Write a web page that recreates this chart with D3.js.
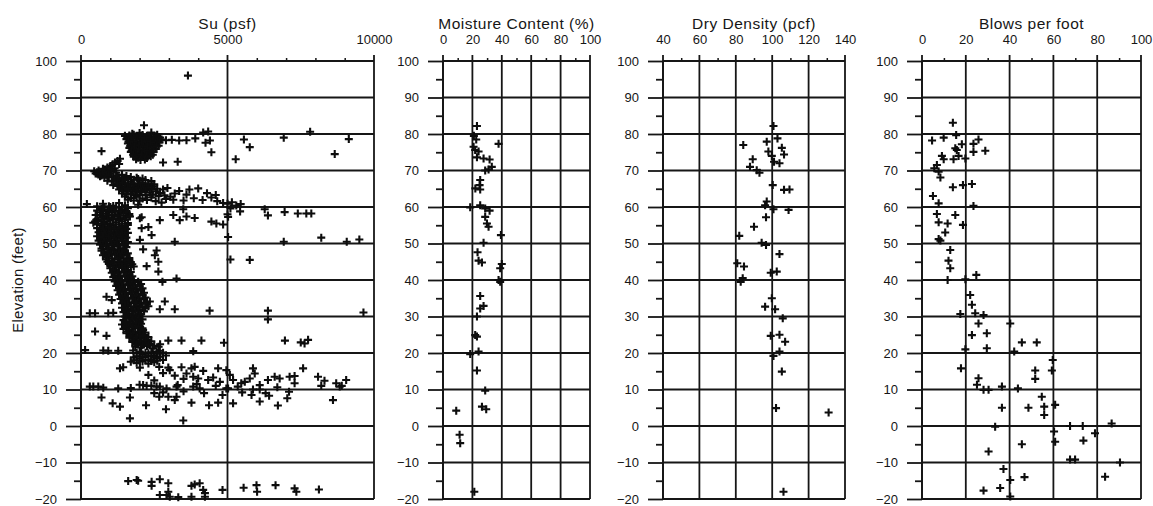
<!DOCTYPE html>
<html><head><meta charset="utf-8">
<script src="https://cdn.jsdelivr.net/npm/d3@7"></script>
<style>
html,body{margin:0;padding:0;background:#fff;}
svg{display:block;font-family:"Liberation Sans",Arial,Helvetica,sans-serif;}
</style></head>
<body>
<svg id="chart" width="1153" height="506"></svg>
<script>
// ---------- tick labels ----------
const elevMajor = [-20,-10,0,10,20,30,40,50,60,70,80,90,100];
const elevMinor = [-15,-5,5,15,25,35,45,55,65,75,85,95];
const suMajor = [0,5000,10000];
const suMinor = [1000,2000,3000,4000,6000,7000,8000,9000];
const mcMajor = [0,20,40,60,80,100];
const mcMinor = [10,30,50,70,90];
const ddMajor = [40,60,80,100,120,140];
const ddMinor = [50,70,90,110,130];
const bpfMajor = [0,20,40,60,80,100];
const bpfMinor = [10,30,50,70,90];
const titles = ["Su (psf)","Moisture Content (%)","Dry Density (pcf)","Blows per foot"];
const yTitle = "Elevation (feet)";

// ---------- data: [value, elevation] ----------
const suData = [
[3650,96],[2150,82.4],[2000,80.3],[1750,80.1],[2400,80.4],[2600,79.8],[4340,80.7],[4170,80.4],
[1500,79.5],[1650,79.6],[1800,79.8],[1950,79.4],[2100,79.7],[2250,79.5],[2400,79.2],[2550,79.4],[2700,79.0],
[1550,78.6],[1700,78.3],[1850,78.8],[2000,78.5],[2150,78.2],[2300,78.6],[2450,78.4],[2600,78.1],[2750,78.5],[2900,78.3],[3100,78.4],[3350,78.2],[3600,78.3],[3900,78.8],[4250,77.6],[4400,78.2],
[1600,77.4],[1750,77.1],[1900,77.5],[2050,77.2],[2200,76.9],[2350,77.3],[2500,77.0],[2650,76.8],
[1650,76.2],[1800,75.9],[1950,76.3],[2100,75.8],[2250,76.1],[2400,75.7],[2550,75.9],
[1700,75.1],[1850,74.7],[2000,75.0],[2150,74.5],[2300,74.9],[2450,74.3],
[1800,73.8],[1950,73.5],[2100,73.9],[2250,73.4],
[1580,79.0],[1720,79.1],[1880,78.9],[2030,79.0],[2180,78.9],[2330,79.0],[2480,78.8],[2630,78.7],
[1620,77.9],[1780,77.8],[1930,78.0],[2080,77.7],[2230,77.8],[2380,77.9],[2530,77.6],[2680,77.7],
[1680,76.7],[1830,76.6],[1980,76.8],[2130,76.5],[2280,76.6],[2430,76.4],[2580,76.5],
[1730,75.5],[1880,75.4],[2030,75.6],[2180,75.2],[2330,75.4],[2480,75.1],
[1780,74.3],[1930,74.1],[2080,74.3],[2230,74.0],[2380,73.9],
[1880,73.1],[2030,72.9],[2180,73.0],
[700,75.3],[4450,75.0],[2800,72.2],[3300,72.4],
[5560,78.5],[5760,76.4],[5280,73.1],[6920,79.0],[7820,80.6],[9140,78.6],[8660,74.5],
[1330,73.2],[1160,72.2],[1000,71.2],[820,70.3],[670,69.5],[590,68.9],[1250,72.6],[1080,71.7],[900,70.8],[750,69.9],[550,69.5],[700,68.6],[850,69.0],[1000,69.9],[1150,70.6],[1300,71.8],
[450,69.8],[600,70.0],[750,70.5],[900,69.6],[1050,70.2],[500,69.2],[800,69.3],[950,69.0],[1200,69.4],[1400,68.8],[1550,68.5],[1700,68.2],[1900,68.0],[2100,67.8],
[650,68.4],[800,68.0],[950,68.5],[1100,68.2],[1250,68.6],
[900,67.2],[1050,67.0],[1200,67.4],[1350,66.9],[1500,67.3],[1700,67.0],[2000,67.2],
[1150,67.8],[1300,67.6],[1450,67.9],[1600,67.7],[1800,67.5],[1950,67.7],[2200,67.4],[2400,67.1],
[1100,66.0],[1250,65.8],[1400,66.2],[1550,65.7],[1700,66.1],[1850,65.6],[2000,65.9],[2150,65.5],[2300,66.0],[2450,65.7],[2950,65.2],
[1250,66.5],[1420,66.6],[1600,66.4],[1780,66.5],[1950,66.3],[2100,66.6],[2300,66.4],[2500,66.2],
[1350,65.3],[1500,65.1],[1650,65.3],[1800,65.0],[1950,65.2],[2100,65.0],[2250,65.2],[2400,64.9],[2600,65.0],[2800,64.8],
[1300,64.8],[1450,64.4],[1600,64.9],[1750,64.2],[1900,64.6],[2050,64.1],[2200,64.5],[2350,63.9],[2550,64.3],[2700,63.8],[3350,64.4],[3700,64.8],[4000,65.1],[3200,63.7],[3600,63.4],[4300,63.8],[4600,63.3],
[1400,63.7],[1550,63.5],[1700,63.6],[1850,63.3],[2000,63.5],[2200,63.3],[2450,63.4],[2650,63.0],[2850,63.2],[3050,62.8],
[1500,62.9],[1700,62.5],[1900,62.8],[2100,62.3],[2400,62.6],[2900,62.2],[3150,62.0],[3500,61.8],[3850,62.4],[4150,61.9],[4450,62.6],[4650,61.6],[4850,61.1],[5000,60.9],[5150,61.3],[5300,60.4],[5450,60.8],[5100,59.6],[5000,58.0],
[1600,62.0],[1800,61.8],[2000,61.7],[2250,61.9],[2550,61.6],[2750,61.2],
[200,60.8],[750,60.9],[1300,61.1],[1100,60.3],[950,60.2],[1500,60.5],[1950,60.6],
[5430,58.8],[6270,59.4],[6380,57.7],[6950,58.6],[7400,58.2],[7690,58.2],[7860,58.2],
[700,59.5],[900,59.2],[1100,59.6],[1300,59.0],[1500,59.3],
[550,60.2],[800,59.9],[1000,60.0],[1200,59.8],[1400,59.9],[1600,59.7],
[650,58.5],[850,58.2],[1050,58.6],[1250,58.0],[1450,58.4],[1650,58.1],
[550,59.0],[750,58.8],[950,58.9],[1150,58.7],[1350,58.8],[1550,58.6],
[750,57.3],[950,57.0],[1150,57.4],[1350,56.9],[1550,57.2],
[500,57.8],[700,57.6],[900,57.7],[1050,57.9],[1250,57.5],[1450,57.7],[1650,57.5],
[600,56.2],[800,55.9],[1000,56.3],[1200,55.8],[1400,56.1],[1600,55.6],
[550,56.6],[700,56.5],[900,56.6],[1100,56.7],[1300,56.4],[1500,56.6],
[700,55.0],[900,54.7],[1100,55.1],[1300,54.5],[1500,54.9],
[550,55.4],[800,55.3],[1000,55.5],[1200,55.2],[1400,55.4],[1600,55.1],
[650,53.8],[850,53.5],[1050,53.9],[1250,53.3],[1450,53.7],
[550,54.2],[750,54.1],[950,54.3],[1150,54.0],[1350,54.2],[1550,54.0],
[700,52.6],[900,52.3],[1100,52.7],[1300,52.1],[1500,52.5],
[600,53.1],[800,52.9],[1000,53.1],[1200,52.8],[1400,53.0],[1600,52.9],
[650,51.4],[850,51.1],[1050,51.5],[1250,50.9],[1450,51.3],
[550,52.0],[750,51.8],[950,51.9],[1150,51.7],[1350,51.9],[1550,51.6],
[700,50.3],[900,50.0],[1100,50.4],[1300,49.8],[1500,50.1],
[600,50.8],[800,50.6],[1000,50.7],[1200,50.5],[1400,50.7],[1600,50.4],
[750,49.2],[950,48.9],[1150,49.3],[1350,48.7],[1550,49.0],
[650,49.7],[850,49.5],[1050,49.6],[1250,49.4],[1450,49.6],
[700,48.6],[900,48.4],[1050,48.5],[1250,48.3],[1450,48.4],
[480,56.0],[420,55.7],[1670,57.4],[2070,57.2],[2010,56.9],[2690,56.4],[2070,54.2],[3150,57.8],[3370,56.4],[3600,57.4],[3880,57.0],[3490,59.4],[2410,52.3],[2010,51.0],[4450,56.0],[4620,55.5],[4850,55.2],[5020,57.3],[5020,51.8],[3200,50.5],[2580,48.1],[2120,48.4],[2300,54.5],
[8200,51.6],[9070,50.5],[9500,51.1],[6920,50.5],
[700,48.0],[900,47.7],[1100,48.1],[1300,47.5],[1500,47.9],
[800,47.3],[1000,47.2],[1200,47.0],[1400,47.1],[1600,47.3],
[750,46.8],[950,46.5],[1150,46.9],[1350,46.3],[1550,46.7],
[850,46.1],[1050,45.9],[1250,46.1],[1450,45.9],[1650,46.0],
[850,45.6],[1050,45.3],[1250,45.7],[1450,45.1],[1650,45.5],
[900,45.0],[1100,44.8],[1300,45.0],[1500,44.7],[1700,44.9],
[950,44.4],[1150,44.1],[1350,44.5],[1550,43.9],[1750,44.3],
[1000,43.8],[1200,43.6],[1400,43.8],[1600,43.5],[1800,43.7],
[1000,43.2],[1200,42.9],[1400,43.3],[1600,42.7],
[1100,42.5],[1300,42.3],[1500,42.5],[1700,42.2],
[1050,42.0],[1250,41.7],[1450,42.1],[1650,41.5],
[1150,41.3],[1350,41.1],[1550,41.3],[1750,41.0],
[1100,40.8],[1300,40.5],[1500,40.9],[1700,40.3],
[1200,40.1],[1400,39.9],[1600,40.1],[1800,39.8],
[2240,43.8],[2640,45.0],[2640,42.3],[2520,46.8],[2780,39.5],[3260,40.4],[5100,45.6],[5760,45.5],
[1150,39.6],[1350,39.3],[1550,39.7],[1750,39.1],[1950,39.5],
[1250,39.0],[1450,38.8],[1650,39.0],[1850,38.7],[2050,38.9],
[1200,38.4],[1400,38.1],[1600,38.5],[1800,37.9],[2000,38.3],
[1300,37.8],[1500,37.6],[1700,37.8],[1900,37.5],[2100,37.7],
[1250,37.2],[1450,36.9],[1650,37.3],[1850,36.7],[2050,37.1],
[1350,36.6],[1550,36.4],[1750,36.6],[1950,36.3],[2150,36.5],
[1300,36.0],[1500,35.7],[1700,36.1],[1900,35.5],[2100,35.9],
[1400,35.3],[1600,35.1],[1800,35.3],[2000,35.0],[2200,35.2],
[1350,34.8],[1550,34.5],[1750,34.9],[1950,34.3],[2150,34.7],
[1450,34.1],[1650,33.9],[1850,34.1],[2050,33.8],[2250,34.0],
[1400,33.6],[1600,33.3],[1800,33.7],[2000,33.1],[2200,33.5],
[1500,32.9],[1700,32.7],[1900,32.9],[2100,32.6],[2300,32.8],
[1400,32.4],[1600,32.1],[1800,32.5],[2000,31.9],[2200,32.3],
[1550,31.7],[1750,31.5],[1950,31.7],[2150,31.4],
[1450,31.2],[1650,30.9],[1850,31.3],[2050,30.7],
[1600,30.5],[1800,30.3],[2000,30.4],
[1500,30.0],[1700,29.7],[1900,30.1],
[870,35.4],[1050,34.5],[2350,34.1],[2860,34.1],[2690,32.0],[3200,32.0],[4390,31.6],[6380,31.6],[6380,29.2],[9640,31.1],
[300,30.9],[480,30.9],[930,30.9],[1100,31.0],
[1450,29.0],[1650,28.7],[1850,29.1],[2000,28.5],
[1550,29.4],[1750,29.2],[1950,29.4],[2100,29.2],
[1400,27.8],[1600,27.5],[1800,27.9],[1950,27.3],
[1500,28.3],[1700,28.1],[1900,28.3],[2050,28.0],
[1450,26.6],[1650,26.3],[1850,26.7],[2050,26.1],
[1550,27.1],[1750,26.9],[1950,27.1],[2100,26.8],
[1550,25.4],[1750,25.1],[1950,25.5],[2150,24.9],
[1600,25.9],[1800,25.7],[2000,25.9],[2200,25.6],
[1650,24.2],[1850,23.9],[2050,24.3],[2250,23.7],
[1700,24.7],[1900,24.5],[2100,24.7],[2300,24.4],
[1750,23.0],[1950,22.7],[2150,23.1],[2350,22.5],
[1800,23.5],[2000,23.3],[2200,23.5],[2400,23.2],
[1850,21.8],[2050,21.5],[2250,21.9],[2450,21.3],[2650,21.7],
[1900,22.3],[2100,22.1],[2300,22.3],[2500,22.0],[2700,22.4],
[480,25.9],[870,24.7],[2120,26.3],[2980,23.4],[3430,23.4],[4110,23.4],[4880,22.8],[6960,23.4],[7630,22.6],[7750,23.6],[7500,22.9],
[140,20.8],[760,20.7],[1270,20.6],[1780,20.7],[2690,20.6],[3830,20.5],[930,20.6],[2580,20.4],
[1900,20.0],[2100,19.6],[2300,19.9],[2500,19.4],[2700,19.8],[2900,19.3],
[2000,20.3],[2200,20.1],[2400,20.2],[2600,20.0],[2800,20.1],
[1800,18.8],[2000,18.5],[2200,18.9],[2400,18.3],[2600,18.6],[2800,18.1],
[1900,19.1],[2100,19.0],[2300,19.2],[2500,18.9],[2700,19.0],
[1700,17.6],[1900,17.3],[2100,17.7],[2300,17.1],[2500,17.5],
[1800,18.0],[2000,17.9],[2200,18.1],[2400,17.8],[2600,17.9],
[1330,15.8],[1440,16.1],[2010,16.0],[2300,14.0],[2670,16.2],[2980,16.0],[3030,15.3],[3430,16.1],[3600,14.4],[3770,15.8],[3880,16.2],[3830,13.5],[4170,15.1],[4340,12.6],[4510,13.3],[4680,15.8],[4740,12.1],[4960,15.3],[5080,14.0],[5190,12.6],[5020,10.3],[5470,11.7],[5590,12.1],[5760,13.0],[5870,15.8],[5930,14.4],[6380,12.6],[6610,13.5],[6780,13.0],[7120,13.5],[7290,13.7],[7290,11.7],[7580,15.8],[8090,13.5],[8310,12.4],[8710,11.7],[8830,10.8],[9050,12.6],
[3200,13.8],[3500,12.9],[4000,13.0],[2800,14.5],[2500,12.5],[3300,11.2],[3950,11.5],[4600,11.0],[5350,10.8],[6100,11.2],[6700,10.6],[8200,11.0],[8900,11.0],
[300,10.8],[420,10.8],[590,10.8],[760,10.5],[1270,10.3],[2120,11.2],[2240,11.0],[2400,11.0],[2580,10.8],[2690,10.8],[2920,10.3],[3260,10.8],[3830,10.8],[4050,10.3],[4960,10.3],[5870,10.0],[6100,10.0],[2000,11.3],[1700,10.4],
[700,7.8],[1080,6.2],[1330,5.3],[1670,7.8],[1670,2.1],[2220,5.7],[2670,8.0],[2900,4.6],[2980,8.0],[3200,7.1],[3260,8.0],[3490,1.5],[3770,6.4],[4370,5.7],[4680,6.4],[4830,8.5],[5190,6.2],[5820,8.5],[6100,6.7],[6420,8.3],[6720,5.6],[7040,7.6],[7100,9.4],[8600,7.1],[2500,9.0],[2800,9.2],[3500,9.5],[4200,9.0],[5500,9.2],[6300,9.0],
[1610,-15.1],[1900,-14.8],[1950,-15.0],[2410,-15.3],[2410,-16.4],[2690,-14.6],[2980,-15.7],[2980,-18.0],[2690,-18.9],[2920,-18.9],[3030,-19.4],[3320,-19.5],[3770,-19.4],[3770,-16.4],[3880,-16.0],[4050,-15.7],[4170,-17.5],[4230,-18.4],[4230,-19.4],[4830,-17.5],[5550,-16.9],[5990,-16.2],[6010,-18.0],[6640,-16.2],[7290,-17.1],[7350,-18.0],[8120,-17.4]
];

const mcData = [
[23.1,82.2],[21.0,79.5],[22.6,78.5],[37.8,77.3],[20.8,76.5],[21.9,75.6],[24.2,75.2],[23.1,73.6],[27.6,73.3],[31.7,73.0],
[33.2,71.0],[31.0,70.3],[28.7,70.0],[25.3,67.4],[24.9,66.0],[22.0,65.1],[25.3,64.8],[18.5,59.9],[25.3,60.5],[28.7,59.6],
[31.7,59.0],[28.7,57.3],[29.9,55.5],[31.0,54.6],[39.4,52.3],[27.6,50.2],[23.5,47.6],[24.2,45.3],[26.5,44.8],[40.0,44.4],
[38.9,43.2],[37.8,40.0],[38.9,39.5],[25.3,35.6],[27.6,32.9],[25.3,32.2],[23.1,30.0],[21.9,24.9],[23.1,24.5],[18.5,19.7],
[24.2,20.4],[23.1,15.2],[28.7,9.7],[26.5,5.3],[29.4,4.6],[9.0,4.2],[11.3,-2.4],[11.7,-4.7],[21.3,-18.0]
];

const ddData = [
[100.7,82.2],[102.9,78.8],[84.1,77.0],[97.0,77.9],[105.3,76.2],[106.5,74.4],[97.9,75.2],[99.8,74.0],
[89.3,73.1],[87.8,71.0],[91.5,70.1],[93.0,69.4],[101.0,72.4],[104.0,72.0],[100.3,66.0],[106.5,64.7],[109.5,64.8],
[97.0,61.5],[96.1,60.5],[109.0,59.2],[100.7,59.4],[96.6,57.2],[90.0,54.6],[81.9,52.1],[94.2,50.2],[96.6,49.6],
[104.0,47.1],[80.8,44.6],[84.5,43.7],[83.8,40.5],[82.7,39.5],[102.5,42.3],[99.2,42.0],[99.8,35.0],[96.1,32.7],
[101.6,32.0],[105.8,29.5],[99.2,24.7],[104.0,25.0],[107.1,23.1],[104.0,20.4],[100.7,19.2],[105.3,14.9],
[102.1,4.9],[131.0,3.7],[106.2,-18.0]
];

const bpfData = [
[14.1,83.1],[4.6,78.2],[9.9,79.0],[15.6,79.7],[15.2,76.1],[18.2,77.2],[15.9,75.6],[23.5,77.3],[23.5,75.1],[25.8,78.5],[28.9,75.4],
[9.1,74.0],[9.9,73.1],[14.4,73.1],[16.7,74.0],[19.8,73.3],[5.6,70.6],[6.8,71.5],[7.6,69.7],[8.4,68.1],
[14.1,65.4],[18.7,66.0],[22.8,66.3],[23.5,60.3],[5.0,63.0],[7.6,61.0],[7.6,55.8],[11.7,55.5],[15.2,57.8],[18.7,55.1],
[6.8,58.1],[10.6,53.0],[7.6,51.2],[8.4,50.8],[12.9,48.2],[12.1,45.3],[12.9,43.2],[11.7,40.0],[19.8,40.2],[24.8,41.4],
[22.0,35.9],[22.8,33.2],[17.5,30.7],[24.3,30.9],[28.1,30.4],[25.8,28.1],[22.8,24.9],[29.6,25.4],[29.6,21.3],[19.8,21.0],
[17.8,15.8],[25.8,13.1],[25.1,11.3],[28.1,9.9],[30.4,9.9],[36.5,10.8],[36.5,5.0],[40.3,28.1],[42.1,20.4],[45.6,22.9],
[52.4,22.9],[43.8,10.3],[48.6,5.0],[51.7,15.2],[51.7,12.9],[54.7,8.0],[55.8,5.3],[55.8,3.0],[59.7,18.1],[59.3,15.2],
[60.8,5.8],[60.3,-1.5],[60.8,-4.3],[33.4,-0.2],[30.4,-7.0],[45.6,-5.0],[37.2,-11.8],[35.7,-17.0],[28.1,-17.7],[40.3,-14.8],
[40.3,-19.3],[46.8,-14.0],[67.6,0.0],[73.4,0.0],[73.7,-4.0],[79.0,-2.0],[67.6,-9.2],[69.9,-9.2],[83.6,-13.9],[86.6,0.7],[90.4,-10.0]
];

// ---------- drawing ----------
const svg = d3.select("#chart");
const ink = "#161616";
const font = '"Liberation Sans",Arial,sans-serif';
const y = d3.scaleLinear().domain([-20,100]).range([499,61]);

const panels = [
  {title:titles[0], data:suData, domain:[0,10000], range:[81,374], major:suMajor, minor:suMinor},
  {title:titles[1], data:mcData, domain:[0,100], range:[443,590], major:mcMajor, minor:mcMinor},
  {title:titles[2], data:ddData, domain:[40,140], range:[663,845], major:ddMajor, minor:ddMinor},
  {title:titles[3], data:bpfData, domain:[0,100], range:[922,1141], major:bpfMajor, minor:bpfMinor}
];

panels.forEach(p => {
  const x = d3.scaleLinear().domain(p.domain).range(p.range);
  const g = svg.append("g");
  const left = p.range[0], right = p.range[1];

  // horizontal grid lines
  g.append("g").selectAll("line").data(elevMajor).join("line")
    .attr("x1", left).attr("x2", right)
    .attr("y1", d => y(d)).attr("y2", d => y(d))
    .attr("stroke", ink).attr("stroke-width", 1.8);
  // vertical grid lines
  g.append("g").selectAll("line").data(p.major).join("line")
    .attr("x1", d => x(d)).attr("x2", d => x(d))
    .attr("y1", y(100) - 6).attr("y2", y(-20))
    .attr("stroke", ink).attr("stroke-width", 1.8);

  // top axis (major labels)
  const topAxis = d3.axisTop(x).tickValues(p.major).tickSize(6).tickPadding(11)
    .tickFormat(d3.format("d"));
  const ta = g.append("g").attr("transform", `translate(0,${y(100)})`).call(topAxis);
  ta.select(".domain").remove();
  ta.selectAll("line").remove();
  ta.selectAll("text").attr("font-size", 13).attr("fill", ink).attr("font-family", font);

  // top minor ticks
  const topMinor = d3.axisTop(x).tickValues(p.minor).tickSize(3).tickFormat("");
  const tm = g.append("g").attr("transform", `translate(0,${y(100)})`).call(topMinor);
  tm.select(".domain").remove();
  tm.selectAll("line").attr("stroke", ink).attr("stroke-width", 1.5);

  // left axis (major)
  const leftAxis = d3.axisLeft(y).tickValues(elevMajor).tickSize(15).tickPadding(9)
    .tickFormat(d3.format("d"));
  const la = g.append("g").attr("transform", `translate(${left},0)`).call(leftAxis);
  la.select(".domain").attr("stroke", ink).attr("stroke-width", 1.8)
    .attr("d", `M0,${y(100)}V${y(-20)}`);
  la.selectAll("line").attr("stroke", ink).attr("stroke-width", 1.8);
  la.selectAll("text").attr("font-size", 13).attr("fill", ink).attr("font-family", font);

  // left minor ticks
  const leftMinor = d3.axisLeft(y).tickValues(elevMinor).tickSize(7).tickFormat("");
  const lm = g.append("g").attr("transform", `translate(${left},0)`).call(leftMinor);
  lm.select(".domain").remove();
  lm.selectAll("line").attr("stroke", ink).attr("stroke-width", 1.8);

  // title
  g.append("text")
    .attr("x", (left + right) / 2).attr("y", 29)
    .attr("text-anchor", "middle")
    .attr("font-size", 15.5).attr("letter-spacing", 0.5).attr("fill", ink)
    .attr("font-family", font)
    .text(p.title);

  // points as + crosses
  g.append("g").selectAll("path").data(p.data).join("path")
    .attr("transform", d => `translate(${x(d[0])},${y(d[1])})`)
    .attr("d", "M-4,0H4M0,-4V4")
    .attr("stroke", "#0d0d0d").attr("stroke-width", 2.1).attr("fill", "none");
});

// y axis title
svg.append("text")
  .attr("transform", `translate(23,${(y(100)+y(-20))/2}) rotate(-90)`)
  .attr("text-anchor", "middle")
  .attr("font-size", 15).attr("letter-spacing", 0.3).attr("fill", ink)
  .attr("font-family", font)
  .text(yTitle);
</script>
</body></html>
